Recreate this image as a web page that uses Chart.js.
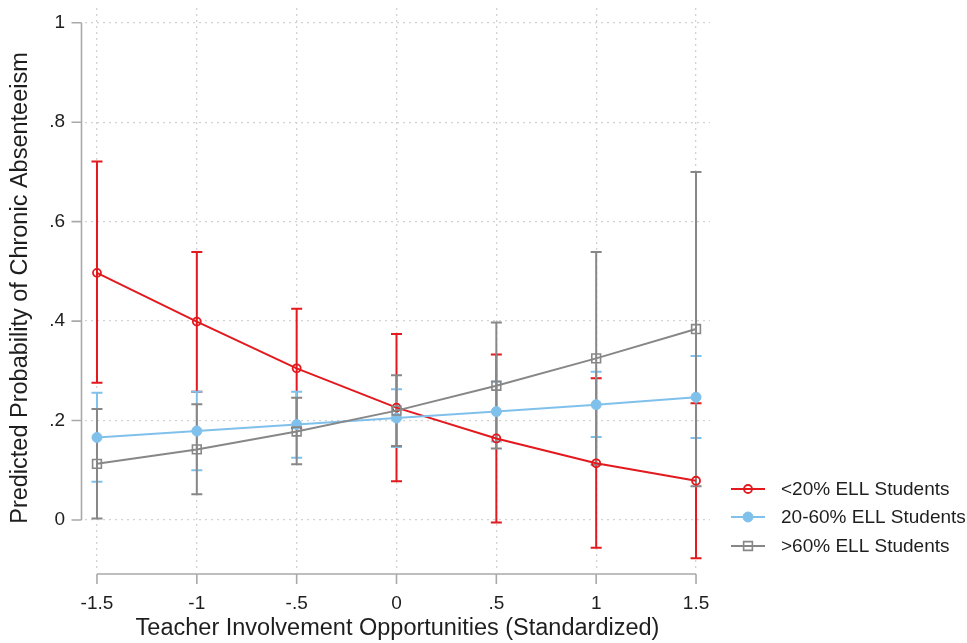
<!DOCTYPE html>
<html>
<head>
<meta charset="utf-8">
<script src="https://cdn.jsdelivr.net/npm/chart.js@4.4.1/dist/chart.umd.min.js"></script>
<style>
  html, body { margin: 0; padding: 0; background: #ffffff; }
  #wrap { width: 967px; height: 643px; }
</style>
</head>
<body>
<div id="wrap"><canvas id="chart" width="967" height="643"></canvas></div>
<script>
// Standardized teacher involvement values (x positions of the margins)
const xValues = [-1.5, -1, -0.5, 0, 0.5, 1, 1.5];
const xTickLabels = ['-1.5', '-1', '-.5', '0', '.5', '1', '1.5'];
const yTickValues = [0, 0.2, 0.4, 0.6, 0.8, 1];
const yTickLabels = ['0', '.2', '.4', '.6', '.8', '1'];

const seriesNames = ['<20% ELL Students', '20-60% ELL Students', '>60% ELL Students'];

// Predicted probabilities and 95% confidence limits
const lowEll     = [0.497, 0.399, 0.305, 0.226, 0.164, 0.114, 0.079];
const lowEllLo   = [0.276, 0.258, 0.185, 0.078, -0.005, -0.056, -0.077];
const lowEllHi   = [0.721, 0.539, 0.425, 0.374, 0.333, 0.285, 0.235];

const midEll     = [0.166, 0.179, 0.192, 0.205, 0.218, 0.232, 0.247];
const midEllLo   = [0.077, 0.100, 0.125, 0.147, 0.158, 0.167, 0.165];
const midEllHi   = [0.256, 0.258, 0.258, 0.263, 0.278, 0.298, 0.330];

const highEll    = [0.113, 0.142, 0.178, 0.220, 0.270, 0.325, 0.384];
const highEllLo  = [0.003, 0.052, 0.112, 0.149, 0.144, 0.111, 0.068];
const highEllHi  = [0.223, 0.233, 0.246, 0.291, 0.397, 0.539, 0.700];

const FONT = "'Liberation Sans', Arial, sans-serif";
const TEXT = '#1e1e1e';
const RED = '#e3191e';
const BLUE = '#80c1ec';
const GRAY = '#878787';
const AXIS = '#a9a9a9';

const toPoints = vals => vals.map((v, i) => ({ x: xValues[i], y: v }));

// Confidence-interval caps, drawn underneath all connected lines
const ciPlugin = {
  id: 'ciBars',
  beforeDatasetsDraw(chart) {
    const { ctx, scales: { x, y } } = chart;
    ctx.save();
    chart.data.datasets.forEach(ds => {
      ctx.strokeStyle = ds.borderColor;
      ctx.lineWidth = 2;
      ds.ciLow.forEach((lo, i) => {
        const hi = ds.ciHigh[i];
        const px = x.getPixelForValue(xValues[i]);
        const y0 = y.getPixelForValue(lo);
        const y1 = y.getPixelForValue(hi);
        ctx.beginPath();
        ctx.moveTo(px, y0); ctx.lineTo(px, y1);
        ctx.moveTo(px - 5.5, y0); ctx.lineTo(px + 5.5, y0);
        ctx.moveTo(px - 5.5, y1); ctx.lineTo(px + 5.5, y1);
        ctx.stroke();
      });
    });
    ctx.restore();
  }
};

// Offset axis lines with outward ticks
const axesPlugin = {
  id: 'offsetAxes',
  afterDraw(chart) {
    const { ctx, chartArea, scales: { x, y } } = chart;
    ctx.save();
    ctx.strokeStyle = AXIS;
    ctx.lineWidth = 1.6;
    const ax = chartArea.left - 3.5;
    const yTop = y.getPixelForValue(yTickValues[yTickValues.length - 1]);
    const yBot = y.getPixelForValue(yTickValues[0]);
    ctx.beginPath();
    ctx.moveTo(ax, yTop); ctx.lineTo(ax, yBot);
    yTickValues.forEach(v => {
      const py = y.getPixelForValue(v);
      ctx.moveTo(ax, py); ctx.lineTo(ax - 10, py);
    });
    const ay = chartArea.bottom + 6;
    const xL = x.getPixelForValue(xValues[0]);
    const xR = x.getPixelForValue(xValues[xValues.length - 1]);
    ctx.moveTo(xL, ay); ctx.lineTo(xR, ay);
    xValues.forEach(v => {
      const px = x.getPixelForValue(v);
      ctx.moveTo(px, ay); ctx.lineTo(px, ay + 10);
    });
    ctx.stroke();
    ctx.restore();
  }
};

// Legend with line-and-marker keys at the lower right
const legendPlugin = {
  id: 'lineKeyLegend',
  afterDraw(chart) {
    const { ctx, chartArea } = chart;
    const x0 = chartArea.right + 21;
    const rows = [489, 517, 546];
    ctx.save();
    chart.data.datasets.forEach((ds, i) => {
      const cy = rows[i];
      ctx.strokeStyle = ds.borderColor;
      ctx.lineWidth = 2;
      ctx.beginPath();
      ctx.moveTo(x0, cy); ctx.lineTo(x0 + 34, cy);
      ctx.stroke();
      ctx.fillStyle = ds.pointBackgroundColor;
      ctx.lineWidth = ds.pointBorderWidth;
      ctx.beginPath();
      if (ds.pointStyle === 'rect') {
        const s = Math.SQRT1_2 * ds.pointRadius;
        ctx.rect(x0 + 17 - s, cy - s, 2 * s, 2 * s);
      } else {
        ctx.arc(x0 + 17, cy, ds.pointRadius, 0, Math.PI * 2);
      }
      ctx.fill();
      ctx.stroke();
      ctx.fillStyle = TEXT;
      ctx.font = '19px ' + FONT;
      ctx.textBaseline = 'middle';
      ctx.textAlign = 'left';
      ctx.fillText(seriesNames[i], x0 + 50, cy + 1);
    });
    ctx.restore();
  }
};

const gridCommon = { color: '#d2d2d2', lineWidth: 1.3, drawTicks: false };

new Chart(document.getElementById('chart'), {
  type: 'line',
  data: {
    datasets: [
      {
        label: seriesNames[0], data: toPoints(lowEll), ciLow: lowEllLo, ciHigh: lowEllHi,
        borderColor: RED, borderWidth: 2, pointStyle: 'circle', pointRadius: 4,
        pointBorderWidth: 1.8, pointBackgroundColor: 'rgba(255,255,255,0)', order: 2
      },
      {
        label: seriesNames[1], data: toPoints(midEll), ciLow: midEllLo, ciHigh: midEllHi,
        borderColor: BLUE, borderWidth: 2, pointStyle: 'circle', pointRadius: 5,
        pointBorderWidth: 1, pointBackgroundColor: BLUE, order: 1
      },
      {
        label: seriesNames[2], data: toPoints(highEll), ciLow: highEllLo, ciHigh: highEllHi,
        borderColor: GRAY, borderWidth: 2, pointStyle: 'rect', pointRadius: 6.2,
        pointBorderWidth: 1.6, pointBackgroundColor: 'rgba(255,255,255,0)', order: 0
      }
    ]
  },
  options: {
    responsive: false,
    animation: false,
    events: [],
    layout: { padding: { top: 8, right: 257, bottom: 0, left: 0 } },
    elements: { line: { tension: 0, fill: false } },
    plugins: { legend: { display: false }, tooltip: { enabled: false } },
    scales: {
      x: {
        type: 'linear', min: -1.56, max: 1.57,
        afterBuildTicks: s => { s.ticks = xValues.map(v => ({ value: v })); },
        afterFit: s => { s.height = 75; s.paddingLeft = 0; s.paddingRight = 0; },
        grid: gridCommon,
        border: { display: false, dash: [2, 4] },
        ticks: {
          autoSkip: false, maxRotation: 0, padding: 24, color: TEXT,
          font: { family: FONT, size: 19 },
          callback: (v, i) => xTickLabels[i]
        },
        title: {
          display: true, text: 'Teacher Involvement Opportunities (Standardized)',
          color: TEXT, font: { family: FONT, size: 23.5 }, padding: { top: 0, bottom: 0 }
        }
      },
      y: {
        type: 'linear', min: -0.0965, max: 1.0296,
        afterBuildTicks: s => { s.ticks = yTickValues.map(v => ({ value: v })); },
        afterFit: s => { s.width = 85; s.paddingTop = 0; s.paddingBottom = 0; },
        grid: gridCommon,
        border: { display: false, dash: [2, 4] },
        ticks: {
          autoSkip: false, padding: 20, color: TEXT,
          font: { family: FONT, size: 19 },
          callback: (v, i) => yTickLabels[i]
        },
        title: {
          display: true, text: 'Predicted Probability of Chronic Absenteeism',
          color: TEXT, font: { family: FONT, size: 23.5 }, padding: { top: 6, bottom: 0 }
        }
      }
    }
  },
  plugins: [ciPlugin, axesPlugin, legendPlugin]
});
</script>
</body>
</html>
